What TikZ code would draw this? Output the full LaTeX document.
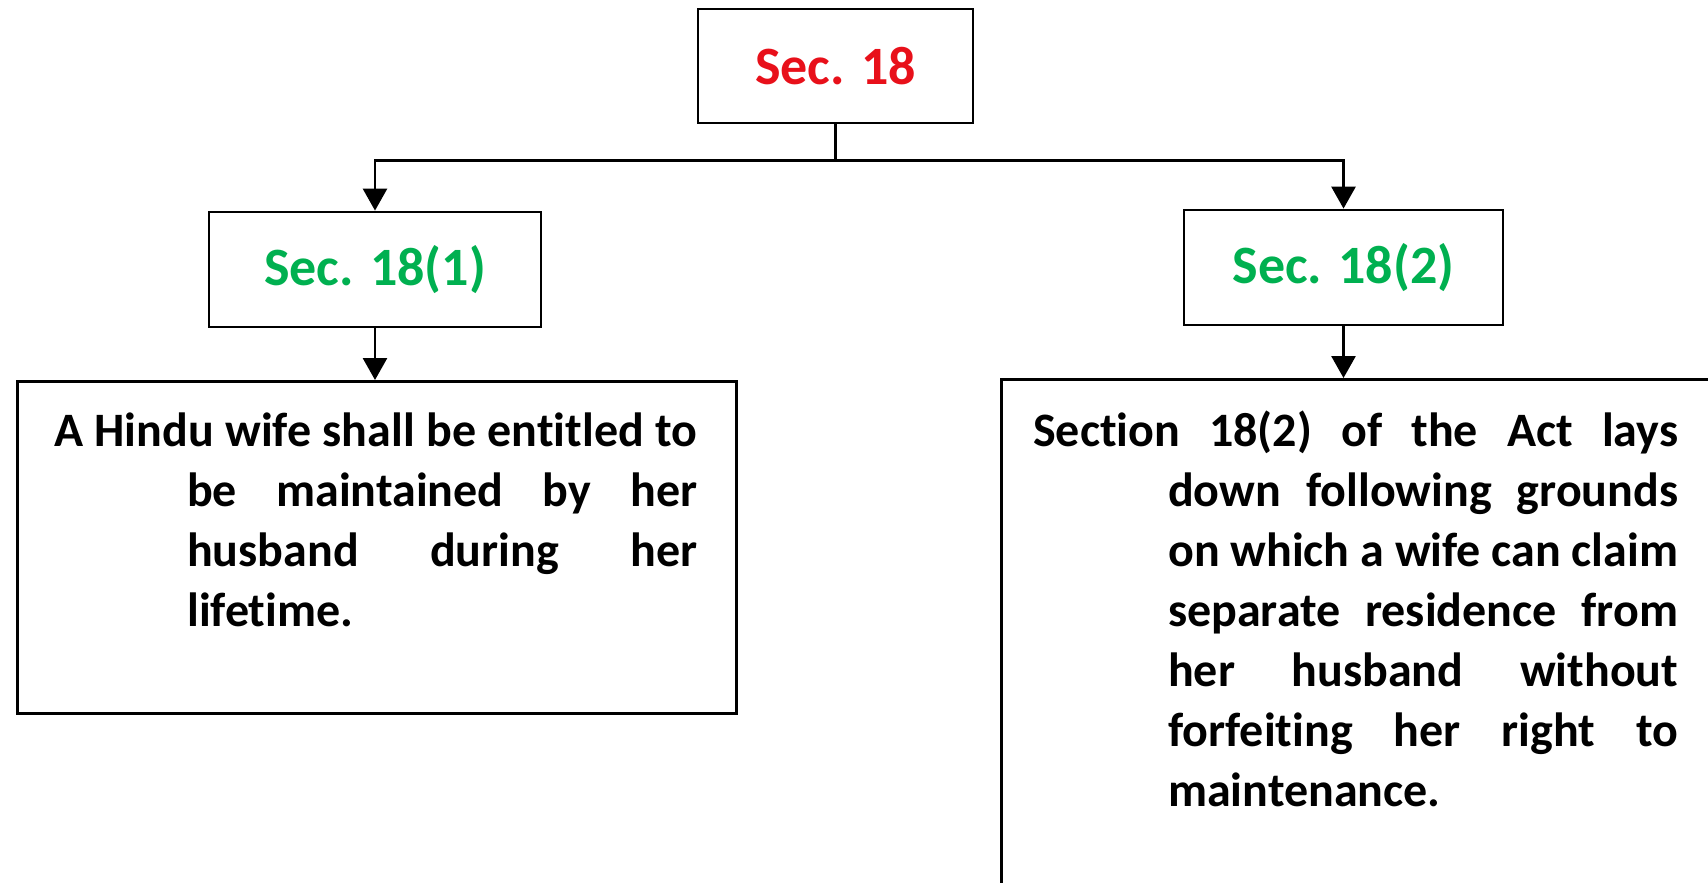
\documentclass[tikz,border=0pt]{standalone}
\usepackage{fontspec}
\setmainfont{Carlito}[Ligatures=NoCommon]
\usetikzlibrary{arrows.meta,positioning}
\definecolor{secred}{RGB}{232,16,26}
\definecolor{secgreen}{RGB}{0,176,80}

\begin{document}
\begin{tikzpicture}[x=1pt,y=-1pt,
    box/.style={draw, line width=2.8pt, inner sep=0pt},
    head/.style={box, font=\fontsize{54}{60}\selectfont\bfseries},
    link/.style={line width=2.8pt, -{Triangle[width=24pt,length=22pt]}},
    body/.style={font=\fontsize{48}{60}\selectfont\bfseries, text width=510pt, align=justify, inner sep=0pt, anchor=north west}]
    \useasboundingbox (0,0) rectangle (1708,883);
    \clip (0,0) rectangle (1708,883);

    % Section headings
    \node[head, text=secred, minimum width=275pt, minimum height=114pt] (sec) at (835.5,66) {Sec. 18};
    \node[head, text=secgreen, minimum width=332pt, minimum height=115pt] (secA) at (375,269.5) {Sec. 18(1)};
    \node[head, text=secgreen, minimum width=319pt, minimum height=115pt] (secB) at (1343.5,267.5) {Sec. 18(2)};

    % Text boxes (right one runs off the page)
    \node[box, minimum width=719pt, minimum height=332pt, anchor=north west] (boxA) at (16,380) {};
    \node[box, minimum width=760pt, minimum height=560pt, anchor=north west] (boxB) at (1000,378) {};

    \node[body] (txtA) at (187,413) {\noindent\hspace*{-133pt}A Hindu wife shall be entitled to\linebreak
        be maintained by her\linebreak husband during her\linebreak lifetime.};
    \node[body] (txtB) at (1168,411) {\noindent\hspace*{-135pt}Section 18(2) of the Act lays\linebreak
        down following grounds\linebreak on which a wife can claim\linebreak
        separate residence from\linebreak her husband without\linebreak
        forfeiting her right to\linebreak maintenance.};

    % Connectors
    \path (sec.south) ++(0,36) coordinate (fork);
    \draw[line width=2.8pt] (sec.south) -- (fork);
    \draw[link] (fork) -| (secA.north);
    \draw[link] (fork) -| (secB.north);
    \draw[link] (secA.south) -- (secA.south |- boxA.north);
    \draw[link] (secB.south) -- (secB.south |- boxB.north);
\end{tikzpicture}
\end{document}
